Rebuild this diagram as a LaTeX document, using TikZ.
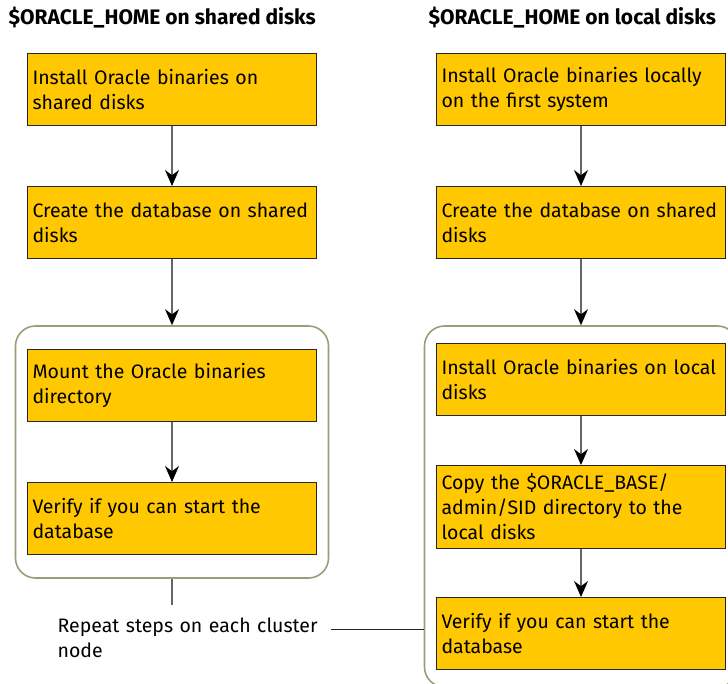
\documentclass[tikz,border=0pt]{standalone}
\usepackage{fontspec}
\setmainfont{Fira Sans}
\usepackage{xcolor}
\usetikzlibrary{arrows.meta,positioning,fit}
\definecolor{boxfill}{HTML}{FFC800}
\definecolor{grpline}{HTML}{9C9C78}
\definecolor{arrline}{HTML}{666666}
\tikzset{
    task/.style={draw=black!85,line width=1pt,fill=boxfill,rectangle,text width=279pt,inner xsep=5pt,inner ysep=4pt,minimum height=72pt,align=left,font=\fontsize{19.5}{25}\selectfont},
    heading/.style={inner sep=0pt,font=\bfseries\fontsize{21}{24}\selectfont},
}

\begin{document}
\begin{tikzpicture}[x=1pt,y=-1pt,->,>={Stealth[length=16pt,width=14pt,black]},line width=1.3pt,draw=arrline,node distance=60pt,group/.style={draw=grpline,line width=1.6pt,rounded corners=20pt,inner xsep=11.5pt,fit=#1}]
        \useasboundingbox (0,0) rectangle (728,683);
        % column headings
        \node[heading] (hl) [anchor=base west] at (8,24) {\$ORACLE\_HOME on shared disks};
        \node[heading] (hr) [anchor=base west] at (428,24) {\$ORACLE\_HOME on local disks};

        % shared disks
        \node[task] (l1) [anchor=north west] at (27,53) {Install Oracle binaries on\\shared disks};
        \node[task] (l2) [below = of l1] {Create the database on shared\\disks};
        \node[task] (l3) [below = 90pt of l2] {Mount the Oracle binaries\\directory};
        \node[task] (l4) [below = of l3] {Verify if you can start the\\database};
        \node[group={(l3)(l4)},inner ysep=23pt] (gl) {};

        % local disks
        \node[task] (r1) [anchor=north west] at (436,53) {Install Oracle binaries locally\\on the first system};
        \node[task] (r2) [below = of r1] {Create the database on shared\\disks};
        \node[task] (r3) [below = 84pt of r2] {Install Oracle binaries on local\\disks};
        \node[task] (r4) [below = 49pt of r3, minimum height=83pt] {Copy the \$ORACLE\_BASE/\\admin/SID directory to the\\local disks};
        \node[task] (r5) [below = 48pt of r4] {Verify if you can start the\\database};
        \node[group={(r3)(r5)},inner ysep=17pt] (gr) {};

        \node[inner sep=0pt,text width=270pt,align=left,font=\fontsize{19.5}{25}\selectfont] (note) [anchor=north west] at (57,617) {Repeat steps on each cluster\\node};
        \coordinate (stub) at (gl.south |- 0,605);
        \coordinate (ln) at (331,629);

        \path
            (l1) edge (l2)
            (l2) edge (gl)
            (l3) edge (l4)
            (r1) edge (r2)
            (r2) edge (gr)
            (r3) edge (r4)
            (r4) edge (r5)
            ;
        \draw[-] (gl.south) -- (stub);
        \draw[-,draw=black!85,line width=1pt] (ln) -- (ln -| gr.west);
\end{tikzpicture}
\end{document}
